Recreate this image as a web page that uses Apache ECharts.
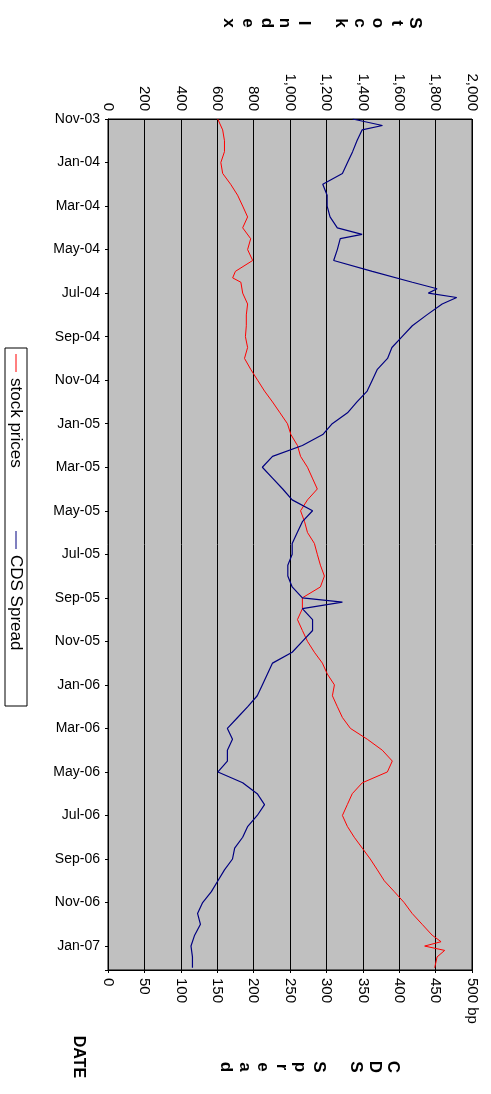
<!DOCTYPE html>
<html><head><meta charset="utf-8">
<script src="https://cdn.jsdelivr.net/npm/echarts@6/dist/echarts.min.js"></script>
<style>html,body{margin:0;padding:0;background:#fff}#c{width:491px;height:1094px}</style>
</head><body><div id="c"></div>
<script>
// month index 0 = Nov-03
const monthNames = ['Jan','Feb','Mar','Apr','May','Jun','Jul','Aug','Sep','Oct','Nov','Dec'];
const stockT = [0,0.5,1,1.5,2,2.5,3,3.5,4,4.5,5,5.5,6,6.5,7,7.3,7.5,8,8.5,9,9.5,10,10.5,11,11.5,12,12.5,13,13.5,14,14.5,15,15.5,16,16.5,17,17.5,18,18.5,19,19.5,20,20.5,21,21.5,22,22.5,23,23.5,24,24.5,25,25.5,26,26.5,27,27.5,28,28.5,29,29.5,30,30.5,31,31.5,32,32.5,33,33.5,34,34.5,35,35.5,36,36.5,37,37.5,37.8,38,38.2,38.5,39];
const stockV = [603,630,640,640,620,630,674,712,740,767,740,784,767,795,700,685,730,740,767,760,760,755,767,750,784,822,860,904,945,986,1005,1041,1058,1096,1123,1150,1096,1058,1080,1096,1134,1150,1167,1189,1167,1068,1068,1041,1068,1096,1134,1178,1205,1244,1233,1260,1288,1332,1425,1507,1562,1535,1397,1342,1315,1288,1315,1353,1397,1441,1480,1518,1573,1627,1671,1726,1781,1830,1740,1850,1808,1795];
const cdsT = [0,0.3,0.5,1,1.5,2,2.5,3,3.5,4,4.5,5,5.3,5.5,6,6.5,7,7.5,7.8,8,8.2,8.5,9,9.5,10,10.5,11,11.5,12,12.5,13,13.5,14,14.5,15,15.5,16,16.5,17,17.5,18,18.5,19,19.5,20,20.5,21,21.5,22,22.2,22.5,23,23.5,24,24.5,25,25.5,26,26.5,27,27.5,28,28.5,29,29.5,30,30.5,31,31.5,32,32.5,33,33.5,34,34.5,35,35.5,36,36.5,37,37.5,38,38.5,39];
const cdsV = [336,377,349,342,336,329,322,295,301,301,305,315,349,319,315,310,363,418,452,440,479,459,438,418,404,390,384,370,363,356,342,329,308,295,267,226,212,226,240,253,281,267,260,253,253,247,247,253,267,322,267,281,281,267,253,226,219,212,205,192,178,164,171,164,164,151,185,205,215,205,192,185,174,171,160,151,142,130,123,127,119,114,116,116];

function monthLabel(v){const m=(10+v)%12, y=3+Math.floor((10+v)/12);return monthNames[m]+'-'+String(y).padStart(2,'0');}
const fmt = n => n.toLocaleString('en-US');
const ff = 'Liberation Sans, Arial, sans-serif';
const letters = (s,x0,y,step,font) => s.split('').map((c,i)=>({type:'group',x:x0-i*step,y:y,rotation:-Math.PI/2,
  children:[{type:'text',x:0,y:0,style:{text:c,align:'center',verticalAlign:'middle',font:font,fill:'#000'}}]}));
const ch = echarts.init(document.getElementById('c'));
ch.setOption({
  animation:false,
  grid:{left:108,right:19,top:119,bottom:124,show:true,backgroundColor:'#c0c0c0',borderColor:'#000',borderWidth:1},
  xAxis:[
    {type:'value',position:'top',min:0,max:2000,interval:200,
     axisLine:{show:true,lineStyle:{color:'#000'}},axisTick:{show:false},
     splitLine:{show:true,lineStyle:{color:'#000',width:1}},
     axisLabel:{rotate:-90,color:'#000',fontSize:15,fontFamily:ff,formatter:v=>fmt(v)}},
    {type:'value',position:'bottom',min:0,max:500,interval:50,
     axisLine:{show:true,lineStyle:{color:'#000'}},axisTick:{show:true,length:3,lineStyle:{color:'#000'}},splitLine:{show:false},
     axisLabel:{rotate:-90,color:'#000',fontSize:15,fontFamily:ff,formatter:v=>v===500?'500 bp':String(v)}}
  ],
  yAxis:{type:'value',inverse:true,min:0,max:39.1,interval:2,
     axisLine:{show:true,lineStyle:{color:'#000'}},axisTick:{show:true,length:3,lineStyle:{color:'#000'}},splitLine:{show:false},
     axisLabel:{margin:8,color:'#000',fontSize:14,padding:[0,0,8,0],fontFamily:'Liberation Sans Narrow, Liberation Sans, sans-serif',formatter:v=>v>39?'':monthLabel(v)}},
  series:[
    {name:'stock prices',type:'line',xAxisIndex:0,data:stockV.map((v,i)=>[v,stockT[i]]),showSymbol:false,lineStyle:{color:'#ff0000',width:1}},
    {name:'CDS Spread',type:'line',xAxisIndex:1,data:cdsV.map((v,i)=>[v,cdsT[i]]),showSymbol:false,lineStyle:{color:'#000080',width:1.2}}
  ],
  graphic:[
    ...letters('Stock Index',415,23,18.6,'bold 17px '+ff),
    ...letters('CDS Spread',393,1067,18.6,'bold 17px '+ff),
    {type:'group',x:78,y:1057,rotation:-Math.PI/2,children:[{type:'text',x:0,y:0,style:{text:'DATE',align:'center',verticalAlign:'middle',font:'bold 16px '+ff,fill:'#000'}}]},
    {type:'group',x:27,y:348,rotation:-Math.PI/2,children:[
      {type:'rect',shape:{x:0,y:0,width:358,height:22},style:{fill:'#fff',stroke:'#000',lineWidth:1}},
      {type:'line',shape:{x1:6,y1:11,x2:24,y2:11},style:{stroke:'#ff0000',lineWidth:1}},
      {type:'text',x:30,y:3,style:{text:'stock prices',font:'17px '+ff,fill:'#000'}},
      {type:'line',shape:{x1:183,y1:11,x2:201,y2:11},style:{stroke:'#000080',lineWidth:1}},
      {type:'text',x:207,y:3,style:{text:'CDS Spread',font:'17px '+ff,fill:'#000'}}
    ]}
  ]
});
</script></body></html>
